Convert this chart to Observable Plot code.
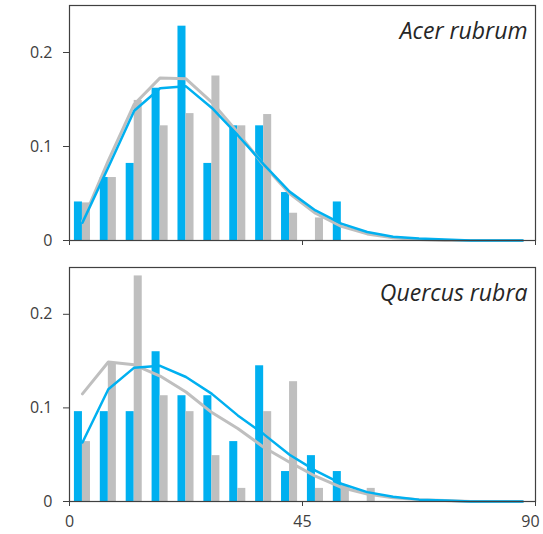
<!DOCTYPE html>
<html>
<head>
<meta charset="utf-8">
<script src="https://cdn.jsdelivr.net/npm/d3@7"></script>
<script src="https://cdn.jsdelivr.net/npm/@observablehq/plot@0.6"></script>
<style>
  html, body { margin: 0; padding: 0; background: #fff; }
  #chart svg { display: block; }
</style>
</head>
<body>
<div id="chart"></div>
<script>
// Bin centers (x)
const centers = [2.5, 7.5, 12.5, 17.5, 22.5, 27.5, 32.5, 37.5, 42.5, 47.5, 52.5, 57.5, 62.5, 67.5, 72.5, 77.5, 82.5, 87.5];

// Panel labels
const species = ["Acer rubrum", "Quercus rubra"];

// Acer rubrum
const acerBlueBars = [0.041, 0.067, 0.082, 0.162, 0.228, 0.082, 0.122, 0.122, 0.051, 0, 0.041, 0, 0, 0, 0, 0, 0, 0];
const acerGrayBars = [0.040, 0.067, 0.149, 0.122, 0.135, 0.175, 0.122, 0.134, 0.029, 0.024, 0, 0, 0, 0, 0, 0, 0, 0];
const acerBlueFit  = [0.019, 0.078, 0.138, 0.162, 0.164, 0.141, 0.112, 0.081, 0.052, 0.032, 0.018, 0.009, 0.004, 0.002, 0.001, 0, 0, 0];
const acerGrayFit  = [0.020, 0.085, 0.145, 0.173, 0.172, 0.147, 0.115, 0.080, 0.050, 0.029, 0.015, 0.007, 0.003, 0.001, 0, 0, 0, 0];

// Quercus rubra
const quercusBlueBars = [0.096, 0.096, 0.096, 0.160, 0.113, 0.113, 0.064, 0.145, 0.032, 0.049, 0.032, 0, 0, 0, 0, 0, 0, 0];
const quercusGrayBars = [0.064, 0.148, 0.241, 0.113, 0.096, 0.049, 0.014, 0.096, 0.128, 0.014, 0.017, 0.014, 0, 0, 0, 0, 0, 0];
const quercusBlueFit  = [0.063, 0.120, 0.143, 0.145, 0.133, 0.115, 0.092, 0.072, 0.050, 0.033, 0.019, 0.010, 0.005, 0.002, 0.001, 0, 0, 0];
const quercusGrayFit  = [0.115, 0.149, 0.146, 0.134, 0.117, 0.095, 0.078, 0.058, 0.042, 0.027, 0.015, 0.008, 0.004, 0.002, 0.001, 0, 0, 0];

// Axis ticks
const xTicks = [0, 45, 90];
const yTicks = [0, 0.1, 0.2];

const BLUE = "#00B0F0";
const GRAY = "#BFBFBF";
const HALF = 1.55; // bar width in x units

function rows(vals) {
  return centers.map((c, i) => ({x: c, y: vals[i]}));
}

function panel({label, blueBars, grayBars, blueFit, grayFit, height, marginTop, marginBottom, showXLabels}) {
  const blue = rows(blueBars).filter(d => d.y > 0);
  const gray = rows(grayBars).filter(d => d.y > 0);
  const xLabelMarks = showXLabels ? [
    Plot.axisX({ticks: xTicks.slice(0, 2), tickSize: 0, tickPadding: 14, tickFormat: d => String(d), label: null}),
    Plot.axisX({ticks: xTicks.slice(2), tickSize: 0, tickPadding: 14, dx: -5, tickFormat: d => String(d), label: null})
  ] : [];
  return Plot.plot({
    width: 543,
    height,
    marginLeft: 69,
    marginRight: 8,
    marginTop,
    marginBottom,
    style: {fontFamily: "'Open Sans', sans-serif", fontSize: "16px", color: "#404040", background: "#fff"},
    x: {domain: [0, 90]},
    y: {domain: [0, 0.25]},
    marks: [
      Plot.rectY(blue, {x1: d => d.x - HALF, x2: d => d.x, y: "y", fill: BLUE}),
      Plot.rectY(gray, {x1: d => d.x, x2: d => d.x + HALF, y: "y", fill: GRAY}),
      Plot.line(rows(grayFit), {x: "x", y: "y", stroke: GRAY, strokeWidth: 3}),
      Plot.line(rows(blueFit), {x: "x", y: "y", stroke: BLUE, strokeWidth: 2.5}),
      Plot.frame({stroke: "#404040", strokeWidth: 1.2}),
      Plot.axisY({ticks: yTicks, tickSize: 6, tickPadding: 11, tickFormat: d => String(d), label: null}),
      Plot.axisX({ticks: xTicks, tickSize: 5, tickFormat: () => "", label: null}),
      ...xLabelMarks,
      Plot.text([label], {frameAnchor: "top-right", dx: -8, dy: 26, lineAnchor: "middle", textAnchor: "end",
        fontStyle: "italic", fontSize: 23, fill: "#262626"})
    ]
  });
}

const root = document.getElementById("chart");
root.appendChild(panel({
  label: species[0], blueBars: acerBlueBars, grayBars: acerGrayBars, blueFit: acerBlueFit, grayFit: acerGrayFit,
  height: 255, marginTop: 5, marginBottom: 15, showXLabels: false
}));
root.appendChild(panel({
  label: species[1], blueBars: quercusBlueBars, grayBars: quercusGrayBars, blueFit: quercusBlueFit, grayFit: quercusGrayFit,
  height: 279, marginTop: 12, marginBottom: 33, showXLabels: true
}));
</script>
</body>
</html>
